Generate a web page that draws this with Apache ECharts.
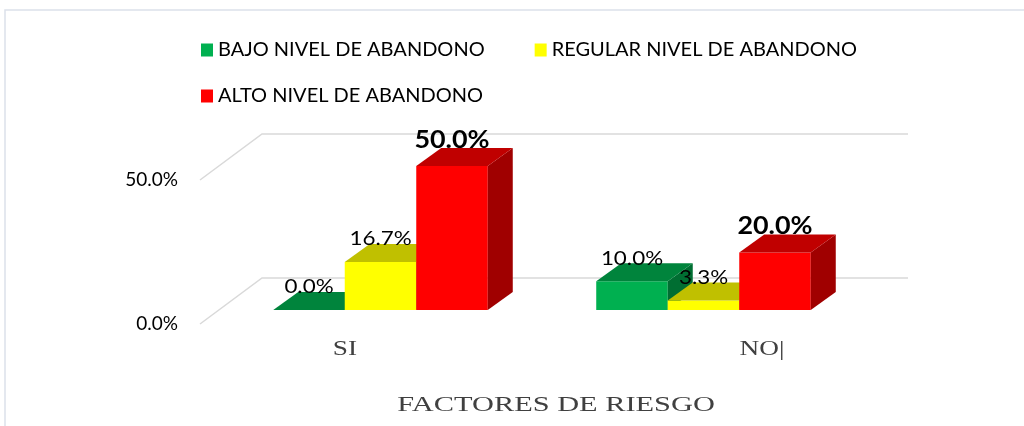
<!DOCTYPE html>
<html lang="es">
<head>
    <meta charset="UTF-8">
    <title>Factores de riesgo</title>
    <script src="https://cdn.jsdelivr.net/npm/echarts@6/dist/echarts.min.js"></script>
    <style>
        html, body { margin: 0; padding: 0; background: #fff; }
        #chart { width: 1024px; height: 426px; }
    </style>
</head>
<body>
<div id="chart"></div>
<script type="text/javascript">
    // datos
    var categories = ['SI', 'NO'];
    var catLabels = ['SI', 'NO|'];
    var levelNames = ['BAJO NIVEL DE ABANDONO', 'REGULAR NIVEL DE ABANDONO', 'ALTO NIVEL DE ABANDONO'];
    var bajo = [0.0, 10.0];
    var regular = [16.7, 3.3];
    var alto = [50.0, 20.0];
    var yTicks = [0, 50];
    var axisTitle = 'FACTORES DE RIESGO';

    // colores de cada cara: frente, tapa, lado
    var faces = [
        ['#00B050', '#00843C', '#006E32'],
        ['#FFFF00', '#C0C000', '#A0A000'],
        ['#FF0000', '#C00000', '#A00000']
    ];

    // perspectiva
    var wallDx = 62, wallDy = 46;     // pared del fondo
    var frontDx = 19, frontDy = 14;   // cara frontal de las barras
    var depthDx = 25, depthDy = 18;   // profundidad de la barra

    function pct(v) { return v.toFixed(1) + '%'; }

    function wallItem(params, api) {
        var cs = params.coordSys;
        var y = api.coord([0, api.value(1)])[1];
        return {
            type: 'polyline',
            shape: { points: [[cs.x, y], [cs.x + wallDx, y - wallDy], [cs.x + cs.width + wallDx, y - wallDy]] },
            style: { stroke: '#D9D9D9', lineWidth: 1.5, fill: null }
        };
    }

    function barItem(slot, bold) {
        return function (params, api) {
            var idx = api.value(0);
            var val = api.value(1);
            var base = api.coord([idx, 0]);
            var top = api.coord([idx, val]);
            var barW = api.size([1, 0])[0] * 0.2214;
            var x0 = base[0] - 1.5 * barW + slot * barW + frontDx;
            var x1 = x0 + barW;
            var yb = base[1] - frontDy;
            var yt = top[1] - frontDy;
            var c = faces[slot];
            return {
                type: 'group',
                children: [
                    { type: 'polygon', shape: { points: [[x0, yb], [x1, yb], [x1, yt], [x0, yt]] }, style: { fill: c[0] } },
                    { type: 'polygon', shape: { points: [[x1, yb], [x1 + depthDx, yb - depthDy], [x1 + depthDx, yt - depthDy], [x1, yt]] }, style: { fill: c[2] } },
                    { type: 'polygon', shape: { points: [[x0, yt], [x1, yt], [x1 + depthDx, yt - depthDy], [x0 + depthDx, yt - depthDy]] }, style: { fill: c[1] } },
                    {
                        type: 'text',
                        x: (x0 + x1) / 2,
                        y: yt - depthDy + (bold ? 4 : 5),
                        scaleX: 1.12,
                        z2: 10,
                        style: {
                            text: pct(val),
                            font: (bold ? 'bold 24px' : '20px') + ' Lato',
                            fill: '#000',
                            align: 'center',
                            verticalAlign: 'bottom'
                        }
                    }
                ]
            };
        };
    }

    function pairs(arr) {
        return arr.map(function (v, i) { return [i, v]; });
    }

    var dom = document.getElementById('chart');
    var myChart = echarts.init(dom);

    var option = {
        backgroundColor: '#fff',
        animation: false,
        textStyle: { fontFamily: 'Lato' },
        legend: [
            {
                data: levelNames.slice(0, 2),
                left: 196, top: 35,
                icon: 'rect', itemWidth: 12, itemHeight: 13, itemGap: 50,
                textStyle: { fontSize: 20, color: '#000', fontFamily: 'Lato' }
            },
            {
                data: levelNames.slice(2),
                left: 196, top: 81,
                icon: 'rect', itemWidth: 12, itemHeight: 13,
                textStyle: { fontSize: 20, color: '#000', fontFamily: 'Lato' }
            }
        ],
        grid: { left: 200, right: 178, top: 180, bottom: 102 },
        xAxis: {
            type: 'category',
            data: categories,
            axisLine: { show: false },
            axisTick: { show: false },
            axisLabel: { show: false }
        },
        yAxis: {
            type: 'value',
            min: 0, max: 50, interval: 50,
            splitLine: { show: false },
            axisLine: { show: false },
            axisTick: { show: false },
            axisLabel: {
                margin: 22,
                fontSize: 19,
                color: '#000',
                fontFamily: 'Lato',
                padding: [8, 0, 0, 0],
                formatter: function (v) { return pct(v); }
            }
        },
        graphic: [
            { type: 'rect', shape: { x: 5, y: 10, width: 1100, height: 500 }, style: { fill: null, stroke: '#DCE1EA', lineWidth: 1.5 }, silent: true },
            { type: 'text', x: 345, y: 349, scaleX: 1.3, style: { text: catLabels[0], font: '21px "Liberation Serif"', fill: '#404040', align: 'center', verticalAlign: 'middle' } },
            { type: 'text', x: 762, y: 349, scaleX: 1.3, style: { text: catLabels[1], font: '21px "Liberation Serif"', fill: '#404040', align: 'center', verticalAlign: 'middle' } },
            { type: 'text', x: 556, y: 405, scaleX: 1.38, style: { text: axisTitle, font: '22px "Liberation Serif"', fill: '#404040', align: 'center', verticalAlign: 'middle' } }
        ],
        series: [
            {
                type: 'custom',
                name: 'pared',
                silent: true,
                clip: false,
                renderItem: wallItem,
                data: yTicks.map(function (t) { return [0, t]; }),
                z: 1
            },
            { type: 'custom', name: levelNames[0], color: faces[0][0], clip: false, renderItem: barItem(0, false), data: pairs(bajo), z: 2 },
            { type: 'custom', name: levelNames[1], color: faces[1][0], clip: false, renderItem: barItem(1, false), data: pairs(regular), z: 3 },
            { type: 'custom', name: levelNames[2], color: faces[2][0], clip: false, renderItem: barItem(2, true), data: pairs(alto), z: 4 }
        ]
    };

    if (option && typeof option === 'object') {
        myChart.setOption(option);
    }
</script>
</body>
</html>
